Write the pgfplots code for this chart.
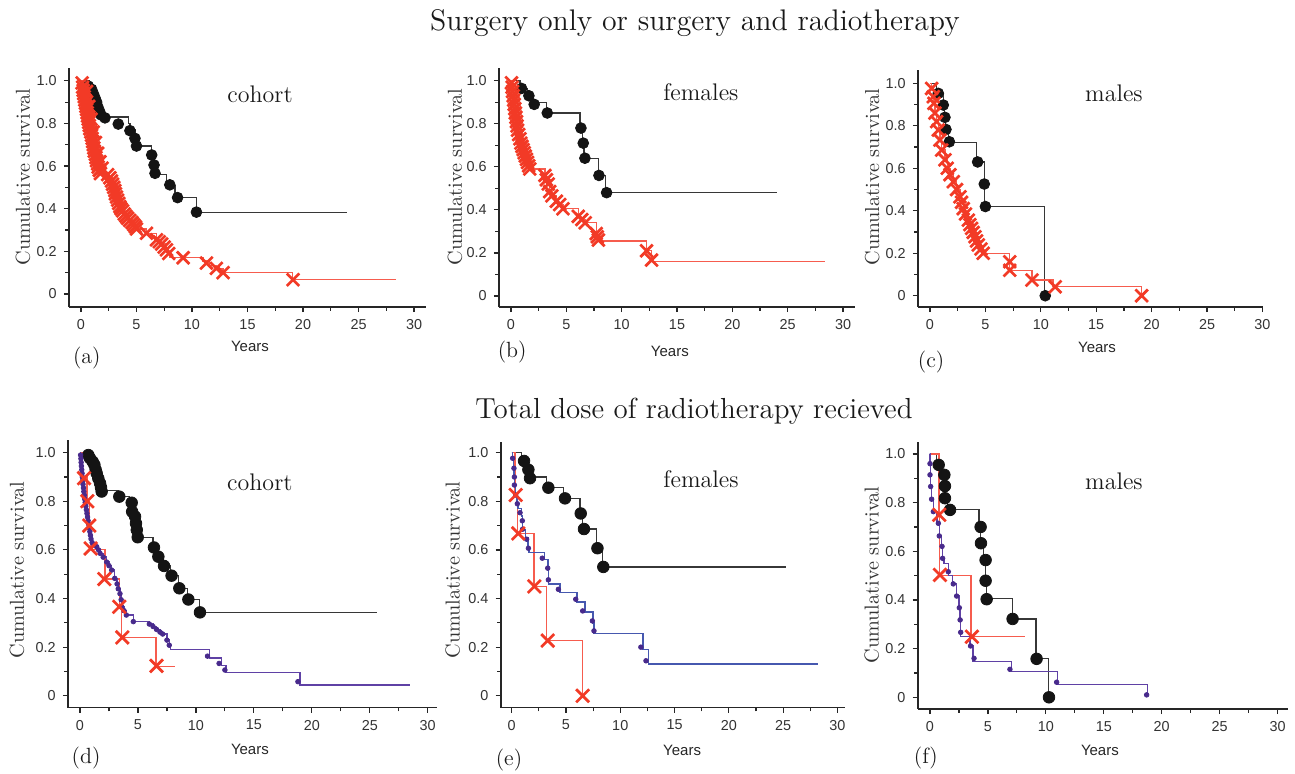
\documentclass[border=0pt]{standalone}
\usepackage{fontspec}
\usepackage{pgfplots}
\pgfplotsset{compat=1.18}
\newfontfamily\arial{Liberation Sans}
\definecolor{kmline}{RGB}{55,55,55}
\definecolor{kmdot}{RGB}{20,20,20}
\definecolor{kmred}{RGB}{242,58,38}
\definecolor{kmredl}{RGB}{246,92,78}
\definecolor{kmpur}{RGB}{95,65,165}
\definecolor{kmpurd}{RGB}{72,42,140}
\definecolor{kmblue}{RGB}{70,88,175}
\pgfplotsset{
  kmaxis/.style={
    scale only axis, anchor=south west,
    axis lines=left,
    axis line style={-, line width=0.8pt, color=black!85},
    tick align=outside,
    xtick={0,5,...,30},
    ytick={0,0.2,0.4,0.6,0.8,1.0},
    yticklabels={0,0.2,0.4,0.6,0.8,1.0},
    minor x tick num=1, minor y tick num=1,
    major tick length=2.6pt, minor tick length=1.8pt,
    every tick/.style={line width=0.6pt, black!85},
    ticklabel style={font=\arial\fontsize{7.2}{8}\selectfont, text=black!80},
    /pgf/number format/assume math mode=true,
    clip=false,
    xlabel={Years}, ylabel={Cumulative survival},
    xlabel style={font=\arial\fontsize{7.5}{9}\selectfont, anchor=center, text=black!85},
    ylabel style={font=\fontsize{10.1}{12}\selectfont, anchor=center, text=black!80},
  },
  bl/.style={const plot, color=kmline, line width=0.6pt},
  bm/.style={only marks, mark=*, mark size=2.7pt, color=kmdot},
  rl/.style={const plot, color=kmredl, line width=0.6pt},
  rm/.style={only marks, mark=x, mark size=4.4pt, color=kmred, mark options={line width=1.35pt}},
  pl/.style={const plot, color=kmpur, line width=0.7pt},
  pm/.style={only marks, mark=*, mark size=1.15pt, color=kmpurd},
}
\begin{document}
\begin{tikzpicture}
\useasboundingbox (0,0) rectangle (647.5pt,387pt);
\node[font=\fontsize{14.9}{17}\selectfont, text=black!90] at (347.5pt,375.5pt) {Surgery only or surgery and radiotherapy};
\node[font=\fontsize{14.5}{17}\selectfont, text=black!90] at (347pt,181.5pt) {Total dose of radiotherapy recieved};

% (a)
\begin{axis}[kmaxis, at={(34.5pt,233.5pt)}, width=178.5pt, height=119.5pt,
  xmin=-1.08, xmax=31.08, ymin=-0.061, ymax=1.06,
  xlabel style={at={(axis description cs:0.507,-0.163)}},
  ylabel style={at={(axis description cs:-0.129,0.544)}}]
\addplot[bl] coordinates {(0,1)(0.8,0.975)(0.96,0.96)(1.11,0.94)(1.26,0.92)(1.41,0.90)(1.5,0.88)(1.65,0.86)(1.8,0.845)(2.16,0.83)(4.26,0.80)(4.41,0.77)(4.86,0.73)(5.0,0.694)(6.37,0.65)(6.58,0.605)(6.67,0.56)(7.7,0.51)(8.47,0.452)(10.4,0.384)(24.0,0.384)};
\addplot[bm] coordinates {(0.66,0.975)(0.96,0.96)(1.11,0.94)(1.26,0.92)(1.41,0.90)(1.5,0.88)(1.65,0.86)(1.8,0.84)(2.16,0.826)(3.36,0.797)(4.41,0.766)(4.86,0.73)(5.0,0.694)(6.37,0.652)(6.58,0.605)(6.67,0.566)(8.0,0.512)(8.7,0.452)(10.4,0.384)};
\addplot[rl] coordinates {(0,1)(0.1,0.99)(0.2,0.955)(0.3,0.925)(0.4,0.895)(0.5,0.865)(0.6,0.835)(0.7,0.805)(0.8,0.775)(0.95,0.745)(1.05,0.715)(1.15,0.685)(1.3,0.655)(1.4,0.625)(1.55,0.595)(1.75,0.565)(2.4,0.56)(2.6,0.545)(2.85,0.515)(3.05,0.485)(3.2,0.455)(3.4,0.425)(3.6,0.40)(3.9,0.375)(4.2,0.355)(4.6,0.335)(4.9,0.315)(5.0,0.305)(5.9,0.285)(6.8,0.254)(7.27,0.234)(7.7,0.207)(7.9,0.19)(8.0,0.172)(11.0,0.155)(11.6,0.135)(12.2,0.12)(12.8,0.10)(19.07,0.067)(28.4,0.067)};
\addplot[rm] coordinates {(0.1,0.99)(0.15,0.97)(0.2,0.955)(0.25,0.94)(0.3,0.925)(0.35,0.91)(0.4,0.895)(0.45,0.88)(0.5,0.865)(0.55,0.85)(0.6,0.835)(0.65,0.82)(0.7,0.805)(0.75,0.79)(0.8,0.775)(0.88,0.76)(0.95,0.745)(1.0,0.73)(1.05,0.715)(1.1,0.70)(1.15,0.685)(1.2,0.67)(1.3,0.655)(1.35,0.64)(1.4,0.625)(1.5,0.61)(1.55,0.595)(1.65,0.58)(1.75,0.565)(0.5,0.95)(0.7,0.88)(0.9,0.82)(1.1,0.76)(1.3,0.71)(1.5,0.66)(1.7,0.62)(1.9,0.59)(2.4,0.56)(2.6,0.545)(2.75,0.53)(2.85,0.515)(2.95,0.50)(3.05,0.485)(3.1,0.47)(3.2,0.455)(3.3,0.44)(3.4,0.425)(3.5,0.41)(3.6,0.40)(3.75,0.39)(3.9,0.375)(4.05,0.365)(4.2,0.355)(4.4,0.345)(4.6,0.335)(4.75,0.325)(4.9,0.315)(5.0,0.305)(5.9,0.285)(6.8,0.254)(7.05,0.245)(7.27,0.234)(7.5,0.22)(7.7,0.207)(7.9,0.19)(9.2,0.17)(11.3,0.145)(12.2,0.12)(12.8,0.10)(19.1,0.067)};
\node[font=\fontsize{12}{14}\selectfont, text=black!90] at (axis description cs:0.535,0.891) {cohort};
\node[font=\fontsize{11}{13}\selectfont, text=black!90] at (axis description cs:0.05,-0.213) {(a)};
\end{axis}

% (b)
\begin{axis}[kmaxis, at={(249.5pt,233.5pt)}, width=178pt, height=119.5pt,
  xmin=-1.08, xmax=31.08, ymin=-0.051, ymax=1.059,
  xlabel style={at={(axis description cs:0.480,-0.184)}},
  ylabel style={at={(axis description cs:-0.124,0.544)}}]
\addplot[bl] coordinates {(0,1)(0.81,0.964)(1.5,0.93)(2.0,0.9)(3.2,0.85)(6.23,0.78)(6.45,0.71)(6.6,0.64)(7.88,0.56)(8.55,0.48)(24.07,0.48)};
\addplot[bm] coordinates {(0.96,0.964)(1.62,0.93)(2.1,0.89)(3.28,0.85)(6.32,0.78)(6.53,0.71)(6.68,0.64)(7.95,0.56)(8.64,0.48)};
\addplot[rl] coordinates {(0,1)(0.05,0.99)(0.15,0.95)(0.25,0.91)(0.35,0.87)(0.45,0.83)(0.55,0.79)(0.7,0.75)(0.9,0.71)(1.1,0.68)(1.3,0.65)(1.5,0.62)(1.7,0.59)(3.07,0.56)(3.2,0.54)(3.37,0.52)(3.5,0.485)(3.7,0.465)(4.1,0.44)(4.4,0.425)(4.7,0.405)(6.08,0.37)(6.4,0.355)(6.7,0.34)(7.7,0.29)(7.8,0.275)(7.9,0.255)(12.25,0.21)(12.7,0.16)(28.35,0.16)};
\addplot[rm] coordinates {(0.05,0.99)(0.1,0.97)(0.15,0.95)(0.2,0.93)(0.25,0.91)(0.3,0.89)(0.35,0.87)(0.4,0.85)(0.45,0.83)(0.5,0.81)(0.55,0.79)(0.6,0.77)(0.7,0.75)(0.81,0.73)(0.9,0.71)(1.0,0.695)(1.1,0.68)(1.2,0.665)(1.3,0.65)(1.4,0.635)(1.5,0.62)(1.6,0.605)(1.7,0.59)(3.07,0.56)(3.2,0.54)(3.37,0.52)(3.5,0.485)(3.7,0.465)(4.1,0.44)(4.4,0.425)(4.7,0.405)(6.08,0.37)(6.4,0.355)(6.7,0.34)(7.7,0.29)(7.8,0.275)(7.9,0.26)(12.25,0.21)(12.7,0.167)};
\node[font=\fontsize{12}{14}\selectfont, text=black!90] at (axis description cs:0.567,0.90) {females};
\node[font=\fontsize{11}{13}\selectfont, text=black!90] at (axis description cs:0.037,-0.188) {(b)};
\end{axis}

% (c)
\begin{axis}[kmaxis, at={(459pt,233.5pt)}, width=172.5pt, height=118.5pt,
  xmin=-1.08, xmax=30.05, ymin=-0.053, ymax=1.063,
  xlabel style={at={(axis description cs:0.519,-0.169)}},
  ylabel style={at={(axis description cs:-0.133,0.549)}}]
\addplot[bl] coordinates {(0,1)(0.6,0.953)(1.2,0.898)(1.3,0.84)(1.4,0.783)(1.7,0.72)(4.2,0.63)(4.9,0.526)(4.95,0.42)(10.3,0)(10.4,0)};
\addplot[bm] coordinates {(0.75,0.953)(1.2,0.898)(1.35,0.84)(1.44,0.783)(1.75,0.725)(4.3,0.63)(4.9,0.526)(5.0,0.42)(10.4,0)};
\addplot[rl] coordinates {(0,1)(0.15,0.976)(0.3,0.937)(0.36,0.906)(0.45,0.86)(0.6,0.82)(0.75,0.78)(0.9,0.733)(1.05,0.686)(1.35,0.64)(1.56,0.60)(1.8,0.57)(2.1,0.537)(2.4,0.50)(2.7,0.466)(2.85,0.44)(3.0,0.41)(3.2,0.385)(3.46,0.356)(3.6,0.335)(3.76,0.317)(3.9,0.298)(4.06,0.278)(4.2,0.258)(4.36,0.239)(4.6,0.22)(4.8,0.20)(7.2,0.12)(9.2,0.074)(11.1,0.042)(19.05,0)};
\addplot[rm] coordinates {(0.15,0.976)(0.3,0.937)(0.36,0.906)(0.45,0.86)(0.6,0.82)(0.75,0.78)(0.9,0.733)(1.05,0.686)(1.35,0.64)(1.56,0.60)(1.8,0.57)(2.1,0.537)(2.4,0.50)(2.7,0.466)(2.85,0.44)(3.0,0.41)(3.2,0.385)(3.46,0.356)(3.6,0.335)(3.76,0.317)(3.9,0.298)(4.06,0.278)(4.2,0.258)(4.36,0.239)(4.6,0.22)(4.8,0.20)(7.2,0.16)(7.2,0.12)(9.2,0.074)(11.3,0.042)(19.1,0)};
\node[font=\fontsize{12}{14}\selectfont, text=black!90] at (axis description cs:0.568,0.903) {males};
\node[font=\fontsize{11}{13}\selectfont, text=black!90] at (axis description cs:0.038,-0.232) {(c)};
\end{axis}

% (d)
\begin{axis}[kmaxis, at={(34pt,33.15pt)}, width=184.5pt, height=133.85pt,
  xmin=-1.035, xmax=30.8, ymin=-0.049, ymax=1.052,
  xlabel style={at={(axis description cs:0.493,-0.154)}},
  ylabel style={at={(axis description cs:-0.138,0.514)}}]
\addplot[bl] coordinates {(0,1)(0.6,0.99)(0.86,0.977)(1.09,0.963)(1.24,0.95)(1.35,0.93)(1.44,0.915)(1.58,0.894)(1.73,0.874)(1.81,0.857)(1.87,0.845)(3.3,0.82)(4.3,0.794)(4.5,0.757)(4.7,0.737)(4.8,0.709)(4.9,0.682)(4.98,0.652)(6.3,0.61)(6.7,0.572)(7.2,0.534)(7.8,0.494)(8.5,0.442)(9.3,0.396)(10.3,0.343)(25.6,0.343)};
\addplot[bm, mark size=2.9pt] coordinates {(0.72,0.99)(0.86,0.977)(1.09,0.963)(1.24,0.95)(1.35,0.93)(1.44,0.915)(1.58,0.894)(1.73,0.874)(1.81,0.857)(1.87,0.84)(3.39,0.819)(4.46,0.794)(4.5,0.757)(4.75,0.737)(4.83,0.709)(4.9,0.682)(4.98,0.652)(6.38,0.61)(6.76,0.572)(7.25,0.534)(7.9,0.494)(8.57,0.442)(9.35,0.396)(10.35,0.343)};
\addplot[rl] coordinates {(0,1)(0.23,0.9)(0.6,0.8)(0.8,0.7)(0.92,0.6)(2.16,0.48)(3.4,0.36)(3.55,0.24)(6.55,0.12)(8.2,0.12)};
\addplot[pl] coordinates {(0,1)(0.05,0.99)(0.1,0.96)(0.15,0.93)(0.2,0.90)(0.26,0.87)(0.33,0.84)(0.4,0.81)(0.5,0.78)(0.6,0.75)(0.7,0.72)(0.8,0.69)(0.9,0.66)(1.05,0.63)(1.2,0.62)(1.44,0.613)(1.6,0.6)(1.73,0.586)(2.0,0.57)(2.3,0.55)(2.5,0.535)(2.73,0.517)(3.0,0.483)(3.2,0.46)(3.3,0.44)(3.45,0.42)(3.55,0.395)(3.6,0.366)(3.8,0.35)(4.0,0.332)(4.6,0.305)(5.98,0.295)(6.3,0.285)(6.6,0.273)(6.9,0.262)(7.13,0.254)(7.5,0.229)(7.7,0.208)(7.8,0.19)(11.16,0.155)(12.2,0.125)(12.6,0.095)(18.98,0.045)(28.5,0.045)};
\addplot[pm] coordinates {(0.05,0.99)(0.08,0.975)(0.1,0.96)(0.12,0.945)(0.15,0.93)(0.18,0.915)(0.2,0.90)(0.23,0.885)(0.26,0.87)(0.3,0.855)(0.33,0.84)(0.37,0.825)(0.4,0.81)(0.45,0.795)(0.5,0.78)(0.55,0.765)(0.6,0.75)(0.65,0.735)(0.7,0.72)(0.75,0.705)(0.8,0.69)(0.85,0.675)(0.9,0.66)(0.95,0.645)(1.05,0.63)(1.2,0.62)(1.44,0.613)(1.6,0.6)(1.73,0.586)(2.0,0.57)(2.3,0.55)(2.5,0.535)(2.73,0.517)(3.0,0.483)(3.2,0.46)(3.3,0.44)(3.45,0.42)(3.55,0.395)(3.6,0.366)(3.8,0.35)(4.0,0.332)(4.6,0.305)(5.98,0.295)(6.3,0.285)(6.6,0.273)(6.9,0.262)(7.13,0.254)(7.5,0.229)(7.7,0.208)(11.0,0.163)(12.0,0.133)(12.5,0.106)(18.8,0.058)};
\addplot[rm, mark size=4.6pt] coordinates {(0.35,0.895)(0.63,0.80)(0.8,0.70)(0.92,0.606)(2.1,0.48)(3.39,0.366)(3.65,0.24)(6.6,0.123)};
\node[font=\fontsize{12}{14}\selectfont, text=black!90] at (axis description cs:0.52,0.843) {cohort};
\node[font=\fontsize{11}{13}\selectfont, text=black!90] at (axis description cs:0.049,-0.188) {(d)};
\end{axis}

% (e)
\begin{axis}[kmaxis, at={(250.35pt,33.15pt)}, width=172.15pt, height=132.85pt,
  xmin=-1.01, xmax=30.7, ymin=-0.049, ymax=1.044,
  xlabel style={at={(axis description cs:0.527,-0.159)}},
  ylabel style={at={(axis description cs:-0.139,0.518)}}]
\addplot[bl] coordinates {(0,1)(0.92,0.966)(1.3,0.93)(1.6,0.9)(3.22,0.856)(4.76,0.812)(6.3,0.75)(6.55,0.686)(7.83,0.607)(8.38,0.53)(25.3,0.53)};
\addplot[bm, mark size=2.9pt] coordinates {(1.14,0.966)(1.54,0.93)(1.69,0.895)(3.38,0.856)(4.91,0.812)(6.36,0.75)(6.66,0.686)(7.9,0.607)(8.44,0.53)};
\addplot[rl] coordinates {(0,1)(0.3,0.826)(0.52,0.668)(2.06,0.45)(3.22,0.227)(6.5,0)};
\addplot[pl, color=kmblue] coordinates {(0,1)(0.05,0.977)(0.15,0.936)(0.22,0.9)(0.26,0.867)(0.35,0.826)(0.5,0.79)(0.6,0.77)(0.92,0.74)(0.98,0.72)(1.0,0.685)(1.3,0.65)(1.5,0.61)(1.6,0.59)(3.0,0.56)(3.35,0.525)(3.4,0.46)(4.45,0.425)(6.0,0.385)(6.75,0.345)(7.5,0.3)(7.6,0.255)(12.1,0.19)(12.6,0.13)(28.25,0.13)};
\addplot[pm] coordinates {(0.09,0.977)(0.21,0.936)(0.25,0.9)(0.25,0.867)(0.37,0.826)(0.52,0.79)(0.77,0.753)(0.98,0.72)(1.0,0.685)(1.38,0.644)(1.54,0.607)(2.82,0.566)(3.32,0.525)(3.38,0.477)(4.3,0.438)(5.9,0.397)(6.54,0.349)(7.43,0.308)(7.58,0.267)(11.9,0.2)(12.37,0.144)};
\addplot[rm, mark size=4.6pt] coordinates {(0.37,0.826)(0.61,0.668)(2.09,0.45)(3.32,0.227)(6.54,0)};
\node[font=\fontsize{12}{14}\selectfont, text=black!90] at (axis description cs:0.582,0.861) {females};
\node[font=\fontsize{11}{13}\selectfont, text=black!90] at (axis description cs:0.024,-0.197) {(e)};
\end{axis}

% (f)
\begin{axis}[kmaxis, at={(458.85pt,32.5pt)}, width=185.15pt, height=133.5pt,
  xmin=-1.06, xmax=30.9, ymin=-0.048, ymax=1.049,
  xlabel style={at={(axis description cs:0.492,-0.154)}},
  ylabel style={at={(axis description cs:-0.124,0.502)}}]
\addplot[bl] coordinates {(0,1)(0.58,0.955)(1.0,0.914)(1.25,0.868)(1.3,0.818)(1.5,0.77)(4.23,0.70)(4.38,0.633)(4.6,0.564)(4.8,0.479)(4.85,0.405)(7.13,0.322)(9.15,0.16)(10.2,0)(10.27,0)};
\addplot[bm, mark size=2.9pt] coordinates {(0.75,0.955)(1.24,0.914)(1.29,0.868)(1.29,0.818)(1.73,0.77)(4.37,0.70)(4.4,0.633)(4.8,0.564)(4.8,0.479)(4.89,0.403)(7.13,0.322)(9.2,0.158)(10.27,0)};
\addplot[rl] coordinates {(0,1)(0.78,0.75)(0.8,0.5)(3.54,0.25)(8.2,0.25)};
\addplot[pl] coordinates {(0,1)(0.01,0.96)(0.02,0.914)(0.06,0.866)(0.14,0.814)(0.29,0.763)(0.6,0.715)(0.8,0.663)(1.0,0.62)(1.09,0.571)(1.2,0.55)(1.6,0.5)(1.96,0.466)(2.3,0.416)(2.5,0.368)(2.6,0.318)(2.65,0.25)(3.45,0.211)(3.7,0.148)(7.05,0.105)(11.0,0.052)(18.75,0.01)};
\addplot[pm] coordinates {(0.0,0.96)(0.0,0.914)(0.06,0.866)(0.14,0.814)(0.29,0.763)(0.72,0.715)(0.8,0.663)(1.04,0.62)(1.09,0.571)(1.58,0.516)(2.01,0.466)(2.3,0.416)(2.53,0.368)(2.6,0.318)(2.65,0.267)(3.5,0.211)(3.8,0.16)(6.9,0.115)(10.93,0.062)(18.7,0.01)};
\addplot[rm, mark size=4.6pt] coordinates {(0.8,0.75)(0.86,0.503)(3.62,0.249)};
\node[font=\fontsize{12}{14}\selectfont, text=black!90] at (axis description cs:0.53,0.854) {males};
\node[font=\fontsize{11}{13}\selectfont, text=black!90] at (axis description cs:0.022,-0.184) {(f)};
\end{axis}
\end{tikzpicture}
\end{document}
